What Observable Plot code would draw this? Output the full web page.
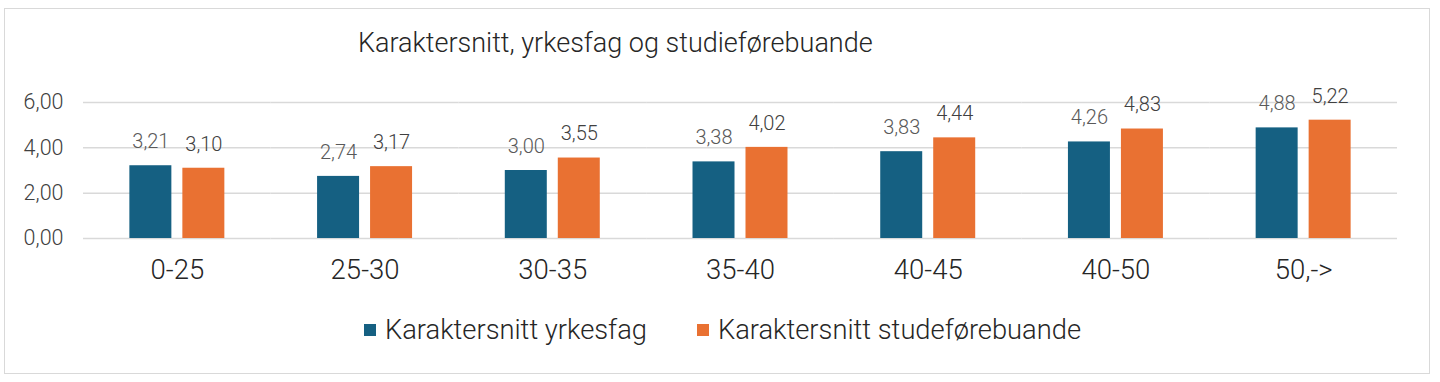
<!DOCTYPE html>
<html>
<head>
<meta charset="utf-8">
<script src="https://cdn.jsdelivr.net/npm/d3@7"></script>
<script src="https://cdn.jsdelivr.net/npm/@observablehq/plot@0.6"></script>
<style>
  html, body { margin: 0; padding: 0; background: #fff; }
  body { width: 1440px; height: 382px; position: relative; overflow: hidden;
         font-family: Roboto, "Noto Sans", sans-serif; font-weight: 300; }
  #frame { position: absolute; left: 4px; top: 8px; width: 1426px; height: 366px;
           border: 1px solid #d9d9d9; box-sizing: border-box; pointer-events: none; }
  #title { height: 80px; box-sizing: border-box; padding-left: 358px; padding-top: 27px;
           font-size: 27px; color: #262626; line-height: 32px; }
  #chart svg { display: block; }
  #legend { height: 82px; display: flex; align-items: center; padding-left: 364px;
            box-sizing: border-box; padding-bottom: 22px; font-size: 27.3px; color: #262626; }
  .item { display: flex; align-items: center; margin-right: 50px; }
  .sw { width: 12px; height: 12px; margin-right: 9px; }
</style>
</head>
<body>
<div id="frame"></div>
<div id="title"></div>
<div id="chart"></div>
<div id="legend"></div>
<script>
const titleText = "Karaktersnitt, yrkesfag og studieførebuande";
const categories = ["0-25", "25-30", "30-35", "35-40", "40-45", "40-50", "50,->"];
const seriesNames = ["Karaktersnitt yrkesfag", "Karaktersnitt studeførebuande"];
const yrkesfag = [3.21, 2.74, 3.00, 3.38, 3.83, 4.26, 4.88];
const studieforebuande = [3.10, 3.17, 3.55, 4.02, 4.44, 4.83, 5.22];
const yTicks = [0, 2, 4, 6];
const colors = ["#156082", "#E97132"];
const labelColors = ["#595959", "#404040"];

const fmt = d => d.toFixed(2).replace(".", ",");

const data = [];
categories.forEach((c, i) => {
  data.push({cat: c, series: seriesNames[0], value: yrkesfag[i]});
  data.push({cat: c, series: seriesNames[1], value: studieforebuande[i]});
});

document.getElementById("title").textContent = titleText;

const chart = Plot.plot({
  width: 1440,
  height: 220,
  marginLeft: 83,
  marginRight: 43,
  marginTop: 22,
  marginBottom: 62,
  style: {fontFamily: "Roboto, 'Noto Sans', sans-serif", fontWeight: 300, background: "transparent"},
  fx: {domain: categories, padding: 0, round: false},
  x: {domain: seriesNames, paddingInner: 0.2075, paddingOuter: 0.875, round: false, axis: null},
  y: {domain: [0, 6], ticks: yTicks},
  color: {domain: seriesNames, range: colors},
  marks: [
    Plot.gridY(yTicks, {stroke: "#d9d9d9", strokeOpacity: 1, strokeWidth: 1.5}),
    Plot.axisY(yTicks, {tickSize: 0, tickPadding: 20, tickFormat: fmt, fontSize: 21.5, fill: "#404040", label: null}),
    Plot.axisFx({anchor: "bottom", tickSize: 0, tickPadding: 21, fontSize: 27.5, fill: "#262626", label: null}),
    Plot.barY(data, {fx: "cat", x: "series", y: "value", fill: "series"}),
    Plot.text(data, {fx: "cat", x: "series", y: "value", text: d => fmt(d.value), dy: -24, fontSize: 20,
      fill: d => d.series === seriesNames[0] ? labelColors[0] : labelColors[1]})
  ]
});
document.getElementById("chart").appendChild(chart);

const legend = document.getElementById("legend");
seriesNames.forEach((s, i) => {
  const item = document.createElement("div");
  item.className = "item";
  const sw = document.createElement("div");
  sw.className = "sw";
  sw.style.background = colors[i];
  const t = document.createElement("span");
  t.textContent = s;
  item.appendChild(sw); item.appendChild(t);
  legend.appendChild(item);
});
</script>
</body>
</html>
